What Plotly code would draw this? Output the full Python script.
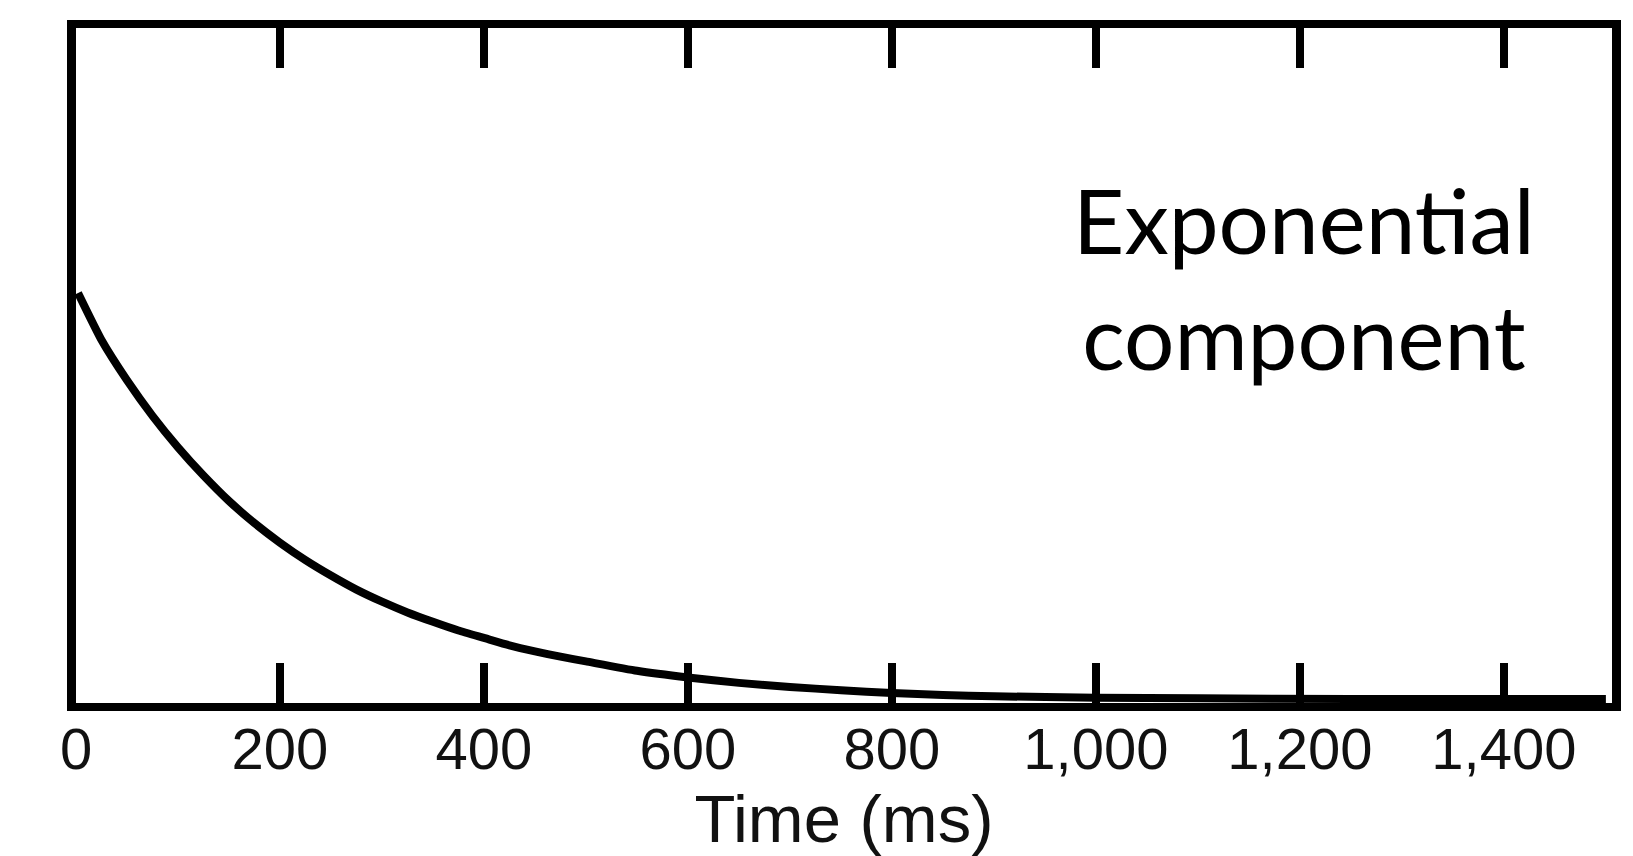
import plotly.graph_objects as go

# Data
time_ms = [2, 25, 50, 75, 100, 125, 150, 175, 200, 225, 250, 275, 300, 325, 350, 375,
           400, 425, 450, 475, 500, 550, 600, 650, 700, 750, 800, 850, 900, 1000, 1100,
           1250, 1500]
amplitude = [0.605, 0.535, 0.475, 0.422, 0.375, 0.333, 0.295, 0.262, 0.233, 0.207, 0.184,
             0.163, 0.145, 0.129, 0.115, 0.102, 0.091, 0.080, 0.071, 0.063, 0.056, 0.042,
             0.032, 0.024, 0.018, 0.013, 0.009, 0.006, 0.004, 0.002, 0.001, 0.0, 0.0]

tick_values = [0, 200, 400, 600, 800, 1000, 1200, 1400]
tick_labels = ["0", "200", "400", "600", "800", "1,000", "1,200", "1,400"]

x_title = "Time (ms)"
label_text = "Exponential<br>component"

fig = go.Figure()
fig.add_trace(go.Scatter(
    x=time_ms, y=amplitude, mode="lines",
    line=dict(color="black", width=8, shape="spline", smoothing=0.5),
    showlegend=False, hoverinfo="skip",
))

fig.add_annotation(
    text=label_text, x=1204, xref="x", y=0.63, yref="paper",
    xanchor="center", yanchor="middle", showarrow=False, align="center",
    font=dict(family="Lato", size=89, color="black"),
)

fig.update_layout(
    width=1633, height=856,
    margin=dict(l=68, r=29, t=20, b=161),
    paper_bgcolor="white", plot_bgcolor="white",
    xaxis=dict(
        range=[0, 1506], tickmode="array", tickvals=tick_values, ticktext=tick_labels,
        ticks="inside", ticklen=40, tickwidth=8, tickcolor="black",
        showline=True, linewidth=8, linecolor="black", mirror="ticks",
        showgrid=False, zeroline=False, ticklabelstandoff=-12,
        tickfont=dict(family="Liberation Sans", size=58, color="#111"),
        title=dict(text=x_title, font=dict(family="Liberation Sans", size=67, color="#111"),
                   standoff=16),
    ),
    yaxis=dict(
        range=[-0.006, 1.0], showline=True, linewidth=9, linecolor="black", mirror=True,
        showticklabels=False, ticks="", showgrid=False, zeroline=False,
    ),
)

fig.write_html("out.html")
